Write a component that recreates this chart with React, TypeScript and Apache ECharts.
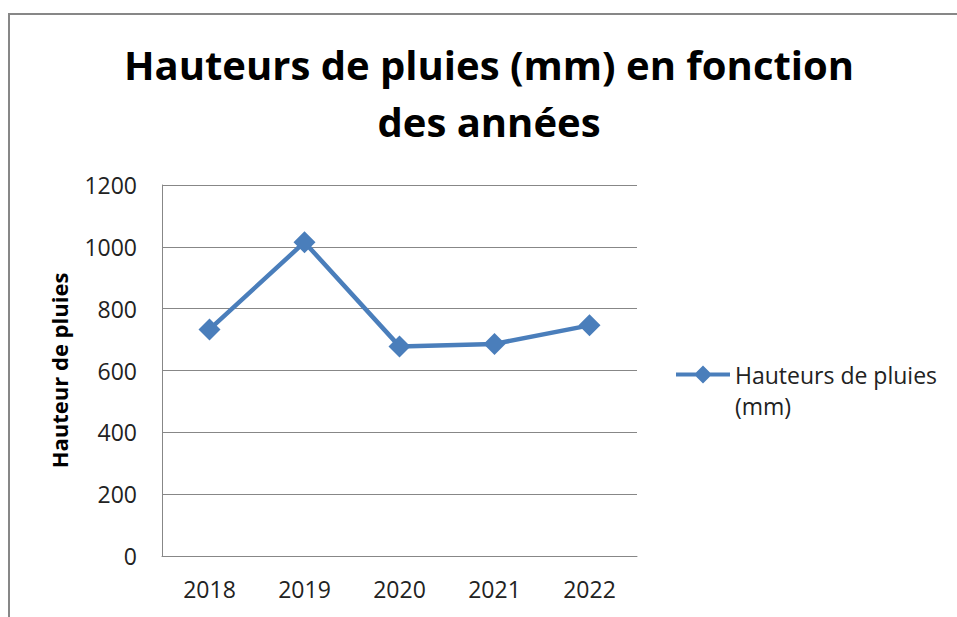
import React, { useEffect, useRef } from "react";
import * as echarts from "echarts";

const titleText = "Hauteurs de pluies (mm) en fonction\ndes années";
const yAxisName = "Hauteur de pluies";
const seriesName = "Hauteurs de pluies (mm)";
const years = ["2018", "2019", "2020", "2021", "2022"];
const rainfall = [733, 1015, 678, 686, 746];
const yTicks = { min: 0, max: 1200, interval: 200 };

const FONT = "'Open Sans', 'Noto Sans', sans-serif";
const BLUE = "#4A7EBB";

export default function App() {
  const ref = useRef<HTMLDivElement>(null);

  useEffect(() => {
    if (!ref.current) return;
    const chart = echarts.init(ref.current, null, { renderer: "svg" });
    chart.setOption({
      animation: false,
      backgroundColor: "#ffffff",
      textStyle: { fontFamily: FONT },
      graphic: [
        {
          type: "rect",
          shape: { x: 9, y: 14, width: 1200, height: 1200 },
          style: { fill: "none", stroke: "#878787", lineWidth: 2 },
          silent: true,
          z: -1,
        },
      ],
      title: {
        text: titleText,
        left: 484,
        top: 31,
        textAlign: "center",
        textStyle: {
          fontFamily: FONT,
          fontWeight: "bold",
          fontSize: 40,
          lineHeight: 57,
          color: "#000000",
        },
      },
      legend: {
        left: 676,
        top: 328,
        padding: 0,
        itemWidth: 54,
        itemHeight: 20,
        itemGap: 0,
        icon: "path://M0,9 L20,9 L27,2 L34,9 L54,9 L54,13 L34,13 L27,20 L20,13 L0,13 Z",
        formatter: () => "\nHauteurs de pluies\n(mm)",
        textStyle: {
          fontFamily: FONT,
          fontSize: 23,
          lineHeight: 31,
          color: "#222222",
        },
        data: [seriesName],
      },
      grid: { left: 162, right: 320, top: 185, bottom: 61 },
      xAxis: {
        type: "category",
        data: years,
        boundaryGap: true,
        axisLine: { show: true, lineStyle: { color: "#878787", width: 1 } },
        axisTick: { show: false },
        axisLabel: { color: "#222222", fontSize: 23, margin: 21, fontFamily: FONT },
        splitLine: { show: false },
      },
      yAxis: {
        type: "value",
        min: yTicks.min,
        max: yTicks.max,
        interval: yTicks.interval,
        name: yAxisName,
        nameLocation: "middle",
        nameGap: 92,
        nameRotate: 90,
        nameTextStyle: { fontFamily: FONT, fontWeight: "bold", fontSize: 22, color: "#000000" },
        axisLine: { show: true, lineStyle: { color: "#878787", width: 1 } },
        axisTick: { show: false },
        axisLabel: {
          color: "#222222",
          fontSize: 23,
          margin: 25,
          fontFamily: FONT,
          formatter: (v: number) => String(v),
        },
        splitLine: { show: true, lineStyle: { color: "#878787", width: 1 } },
      },
      series: [
        {
          name: seriesName,
          type: "line",
          data: rainfall,
          symbol: "diamond",
          symbolSize: 22,
          showSymbol: true,
          lineStyle: { color: BLUE, width: 4.5 },
          itemStyle: { color: BLUE },
        },
      ],
    });
    return () => chart.dispose();
  }, []);

  return (
    <div
      ref={ref}
      style={{ position: "fixed", left: 0, top: 0, width: 957, height: 617 }}
    />
  );
}
